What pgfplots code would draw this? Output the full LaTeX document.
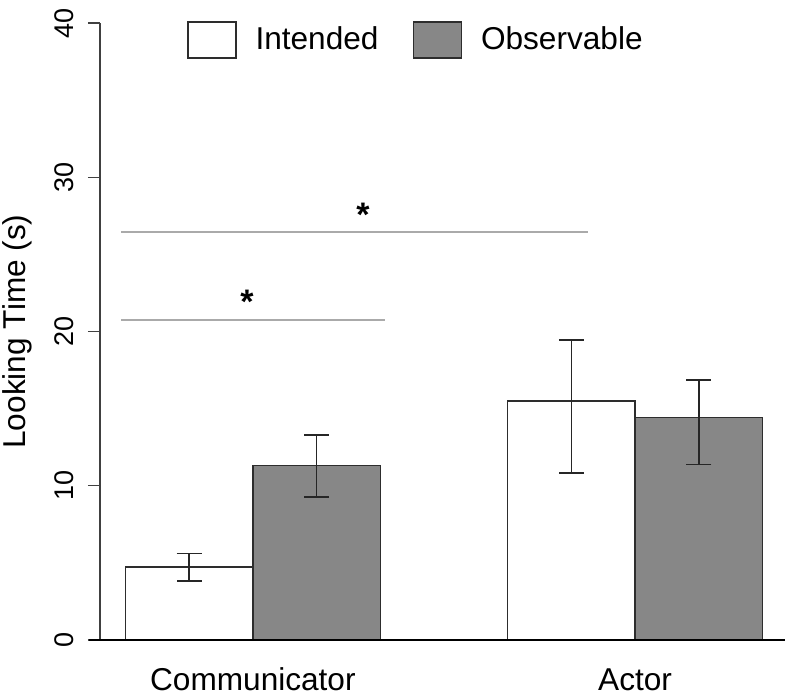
\documentclass[border=0pt]{standalone}
\usepackage{fontspec}
\setmainfont{Liberation Sans}
\usepackage{pgfplots}
\pgfplotsset{compat=1.18}
\definecolor{barGray}{RGB}{135,135,135}
\definecolor{edge}{RGB}{45,45,45}
\definecolor{sig}{RGB}{170,170,170}
\begin{document}
\begin{tikzpicture}
\begin{axis}[
  scale only axis, width=344pt, height=308.5pt,
  xmin=0.8, xmax=6.2, ymin=0, ymax=40,
  clip=false,
  axis y line*=left, axis x line*=bottom,
  x axis line style={draw=none},
  y axis line style={draw=black!75, line width=0.6pt},
  xtick={2,5}, xticklabels={Communicator,Actor},
  xtick style={draw=none},
  ytick={0,10,20,30,40},
  ytick style={draw=black!75, line width=0.6pt},
  tick align=outside, major tick length=6pt,
  /pgf/number format/assume math mode=true,
  yticklabel style={font=\fontsize{13.5}{16}\selectfont, rotate=90, anchor=base},
  yticklabel shift=7pt,
  xticklabel style={font=\fontsize{15.8}{19}\selectfont, anchor=base},
  xticklabel shift=19pt,
  ylabel={Looking Time (s)},
  ylabel style={font=\fontsize{15.8}{19}\selectfont, at={(axis description cs:-0.1076,0.5)}, anchor=base},
  legend style={at={(axis description cs:0.1265,0.9724)}, anchor=west, draw=none, fill=none,
    inner sep=0pt, outer sep=0pt, font=\fontsize{15.8}{19}\selectfont, nodes={inner sep=0pt},
    /tikz/every odd column/.append style={column sep=9.5pt},
    /tikz/every even column/.append style={column sep=17pt}},
  legend columns=2,
  legend image code/.code={\draw[#1, line width=0.75pt] (0pt,-9pt) rectangle (24pt,9pt);},
]
\addplot[ybar, bar width=1, bar shift=0pt, fill=white, draw=edge, line width=0.75pt,
  error bars/.cd, y dir=both, y explicit,
  error bar style={line width=0.75pt, draw=black!85},
  error mark options={rotate=90, mark size=6.25pt, line width=0.75pt, draw=black!85}]
  coordinates {(1.5,4.73) += (0,0.89) -= (0,0.92) (4.5,15.49) += (0,3.96) -= (0,4.66)};
\addlegendentry{Intended}
\addplot[ybar, bar width=1, bar shift=0pt, fill=barGray, draw=edge, line width=0.75pt,
  error bars/.cd, y dir=both, y explicit,
  error bar style={line width=0.75pt, draw=black!85},
  error mark options={rotate=90, mark size=6.25pt, line width=0.75pt, draw=black!85}]
  coordinates {(2.5,11.30) += (0,1.99) -= (0,2.03) (5.5,14.44) += (0,2.40) -= (0,3.05)};
\addlegendentry{Observable}
\addplot[black, line width=0.8pt, forget plot] coordinates {(0.714,0) (6.177,0)};
\addplot[sig, line width=0.6pt, forget plot] coordinates {(0.965,20.75) (3.037,20.75)};
\addplot[sig, line width=0.6pt, forget plot] coordinates {(0.965,26.45) (4.630,26.45)};
\node[font=\bfseries\fontsize{17}{20}\selectfont, yshift=-2.5pt] at (axis cs:1.954,22.24) {*};
\node[font=\bfseries\fontsize{17}{20}\selectfont, yshift=-2.5pt] at (axis cs:2.864,27.88) {*};
\end{axis}
\pgfresetboundingbox
\useasboundingbox (-50pt,-29pt) rectangle (344pt,320pt);
\end{tikzpicture}
\end{document}
